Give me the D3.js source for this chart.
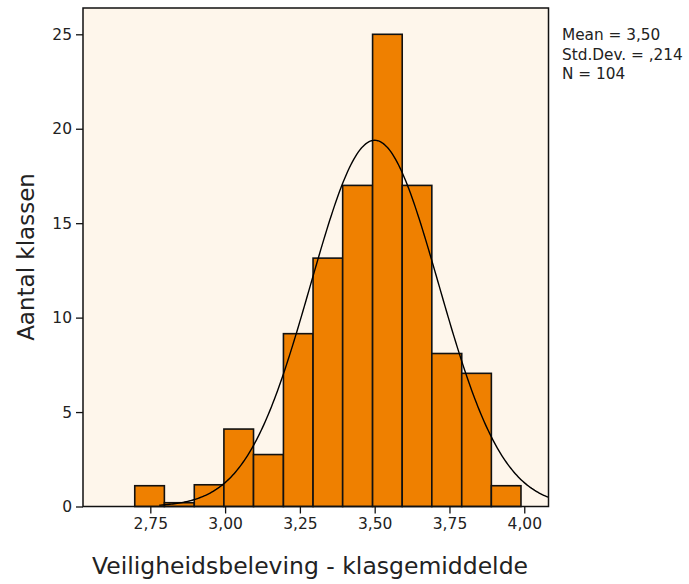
<!DOCTYPE html>
<html>
<head>
<meta charset="utf-8">
<script src="https://cdn.jsdelivr.net/npm/d3@7"></script>
<style>
    body { margin: 0; background: #fff; }
    text { font-family: "DejaVu Sans", sans-serif; fill: #222; }
</style>
</head>
<body>
<svg id="chart" width="689" height="584"></svg>
<script>
// histogram of class means
const binEdges = [2.698, 2.797, 2.897, 2.996, 3.095, 3.195, 3.294, 3.393, 3.493, 3.592, 3.691, 3.791, 3.890, 3.989]
const counts = [1.1, 0.2, 1.15, 4.1, 2.75, 9.15, 13.15, 17, 25, 17, 8.1, 7.05, 1.1]

const xTicks = [2.75, 3.00, 3.25, 3.50, 3.75, 4.00]
const yTicks = [0, 5, 10, 15, 20, 25]

const stats = {mean: 3.50, sd: 0.214, n: 104, binWidth: 0.1}
const statLines = ['Mean = 3,50', 'Std.Dev. = ,214', 'N = 104']

const plot = {left: 83, top: 8, right: 548.5, bottom: 506.5}

const x = d3.scaleLinear()
    .domain([2.525, 4.081])
    .range([plot.left, plot.right])

const y = d3.scaleLinear()
    .domain([0, 25])
    .range([plot.bottom, 34.3])

const comma = d => d.toFixed(2).replace('.', ',')

const svg = d3.select('#chart')

svg.append('rect')
    .attr('x', plot.left)
    .attr('y', plot.top)
    .attr('width', plot.right - plot.left)
    .attr('height', plot.bottom - plot.top)
    .attr('fill', '#fef6eb')

const bins = counts.map((c, i) => ({x0: binEdges[i], x1: binEdges[i + 1], c}))

svg.append('g')
    .selectAll('rect')
    .data(bins)
    .join('rect')
    .attr('x', d => x(d.x0))
    .attr('y', d => y(d.c))
    .attr('width', d => x(d.x1) - x(d.x0))
    .attr('height', d => y(0) - y(d.c))
    .attr('fill', '#ef8000')
    .attr('stroke', '#111')
    .attr('stroke-width', 1.6)

// normal curve scaled to the bin width
const normal = v => stats.n * stats.binWidth / (stats.sd * Math.sqrt(2 * Math.PI)) *
    Math.exp(-0.5 * ((v - stats.mean) / stats.sd) ** 2)

const curveXs = d3.range(2.78, 4.081, 0.005)
svg.append('path')
    .datum(curveXs)
    .attr('fill', 'none')
    .attr('stroke', '#000')
    .attr('stroke-width', 1.4)
    .attr('d', d3.line().x(d => x(d)).y(d => y(normal(d))))

// frame
svg.append('rect')
    .attr('x', plot.left)
    .attr('y', plot.top)
    .attr('width', plot.right - plot.left)
    .attr('height', plot.bottom - plot.top)
    .attr('fill', 'none')
    .attr('stroke', '#111')
    .attr('stroke-width', 1.5)

const xAxis = svg.append('g')
    .attr('transform', `translate(0,${plot.bottom})`)
    .call(d3.axisBottom(x).tickValues(xTicks).tickFormat(comma).tickSize(7).tickPadding(4))
xAxis.select('.domain').remove()

const yAxis = svg.append('g')
    .attr('transform', `translate(${plot.left},0)`)
    .call(d3.axisLeft(y).tickValues(yTicks).tickSize(7).tickPadding(4))
yAxis.select('.domain').remove()

svg.selectAll('.tick line').attr('stroke', '#111').attr('stroke-width', 1.3)
svg.selectAll('.tick text')
    .attr('font-family', '"DejaVu Sans", sans-serif')
    .attr('font-size', 15.5)
    .attr('fill', '#222')

svg.append('text')
    .attr('x', 310)
    .attr('y', 574)
    .attr('text-anchor', 'middle')
    .attr('font-size', 23.5)
    .text('Veiligheidsbeleving - klasgemiddelde')

svg.append('text')
    .attr('transform', `translate(34,${257}) rotate(-90)`)
    .attr('text-anchor', 'middle')
    .attr('font-size', 23)
    .text('Aantal klassen')

svg.append('g')
    .selectAll('text')
    .data(statLines)
    .join('text')
    .attr('x', 562)
    .attr('y', (d, i) => 40 + i * 19.5)
    .attr('font-size', 15.3)
    .text(d => d)
</script>
</body>
</html>
